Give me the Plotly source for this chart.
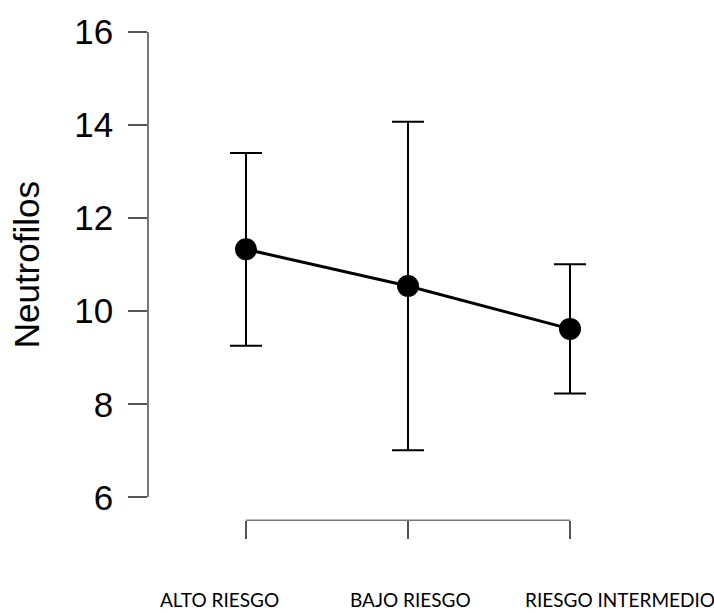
import plotly.graph_objects as go

categories = ["ALTO RIESGO", "BAJO RIESGO", "RIESGO INTERMEDIO"]
x_pos = [1, 2, 3]
means = [11.33, 10.54, 9.62]
upper = [13.40, 14.07, 11.01]
lower = [9.26, 7.01, 8.23]
y_ticks = [6, 8, 10, 12, 14, 16]
label_shift = [-27, 2, 50]

err_plus = [u - m for u, m in zip(upper, means)]
err_minus = [m - l for m, l in zip(means, lower)]

W, H = 714, 613
ml, mr, mt, mb = 149, 14, 28, 73
paper_h = H - mt - mb
plot_bottom_px = 497
xaxis_px = 520
ydom0 = (H - mb - plot_bottom_px) / paper_h
xpos = (H - mb - xaxis_px) / paper_h

# x range so categories land where they are in the reference
spacing = 162.0
x0 = 1 - (246 - ml) / spacing
x1 = 3 + ((W - mr) - 570) / spacing

fig = go.Figure()
fig.add_trace(go.Scatter(
    x=x_pos, y=means, mode="lines+markers",
    line=dict(color="black", width=3),
    marker=dict(color="black", size=22),
    error_y=dict(type="data", symmetric=False, array=err_plus, arrayminus=err_minus,
                 color="black", thickness=2, width=16),
    cliponaxis=False, showlegend=False,
))

fig.add_shape(type="line", xref="x", yref="paper", x0=1, x1=3, y0=xpos, y1=xpos,
              line=dict(color="#777777", width=1.5))

for xv, lab, sh in zip(x_pos, categories, label_shift):
    fig.add_annotation(x=xv, y=-(600 - (H - mb)) / paper_h, xref="x", yref="paper",
                       text=lab, showarrow=False, xshift=sh, yanchor="middle",
                       font=dict(family="Lato", size=19, color="black"))

fig.update_layout(
    width=W, height=H,
    margin=dict(l=ml, r=mr, t=mt, b=mb),
    plot_bgcolor="white", paper_bgcolor="white",
    xaxis=dict(range=[x0, x1], anchor="free", position=xpos, showline=False,
               showgrid=False, zeroline=False, tickvals=x_pos, showticklabels=False,
               ticks="outside", ticklen=18, tickwidth=1.5, tickcolor="#555555"),
    yaxis=dict(range=[6, 16], domain=[ydom0, 1], showgrid=False, zeroline=False,
               showline=True, linecolor="#777777", linewidth=1.5,
               tickvals=y_ticks, ticks="outside", ticklen=19, tickwidth=1.5,
               tickcolor="#555555", ticklabelstandoff=8,
               tickfont=dict(family="Liberation Sans", size=35, color="black"),
               title=dict(text="Neutrofilos", standoff=24,
                          font=dict(family="Liberation Sans", size=35, color="black"))),
)

fig.write_html("out.html")
